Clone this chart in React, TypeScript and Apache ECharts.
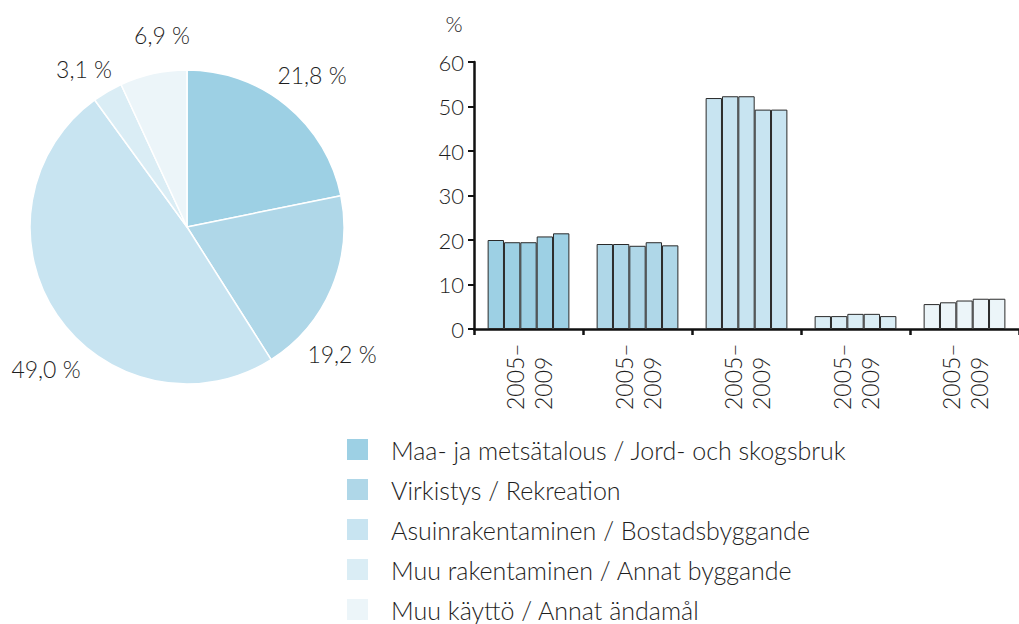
import React, { useEffect, useRef } from "react";
import * as echarts from "echarts";

const categories = [
  "Maa- ja metsätalous / Jord- och skogsbruk",
  "Virkistys / Rekreation",
  "Asuinrakentaminen / Bostadsbyggande",
  "Muu rakentaminen / Annat byggande",
  "Muu käyttö / Annat ändamål",
];
const colors = ["#9DD0E4", "#AFD7E8", "#C8E4F1", "#DAEDF5", "#ECF5F9"];
const years = ["2005", "2006", "2007", "2008", "2009"];
const pieShares = [21.8, 19.2, 49.0, 3.1, 6.9];
const maaValues = [20.0, 19.5, 19.5, 20.8, 21.5];
const virkistysValues = [19.1, 19.1, 18.7, 19.5, 18.8];
const asuinValues = [51.9, 52.3, 52.3, 49.3, 49.3];
const muuRakValues = [2.9, 2.9, 3.4, 3.4, 2.9];
const muuKayttoValues = [5.6, 6.0, 6.4, 6.8, 6.8];
const barValues = [maaValues, virkistysValues, asuinValues, muuRakValues, muuKayttoValues];
const yTicks = { min: 0, max: 60, interval: 10 };
const periodLabel = ["2005–", "2009"];
const pieLabelAnchors = [
  [312, 75],
  [342, 354],
  [46, 369],
  [84, 69],
  [162, 35],
];

const FONT = "Lato, 'Open Sans', sans-serif";
const TXT = "#1e1e1e";

export default function App() {
  const ref = useRef<HTMLDivElement>(null);
  useEffect(() => {
    if (!ref.current) return;
    const chart = echarts.init(ref.current, null, { renderer: "svg" });
    const barSeries = years.map((y, j) => ({
      type: "bar",
      name: y,
      xAxisIndex: 0,
      yAxisIndex: 0,
      barGap: "0%",
      barCategoryGap: "25%",
      data: categories.map((c, i) => ({
        value: barValues[i][j],
        itemStyle: { color: colors[i], borderColor: "#2a2a2a", borderWidth: 1 },
      })),
    }));
    chart.setOption({
      animation: false,
      textStyle: { fontFamily: FONT, color: TXT },
      legend: {
        data: categories,
        orient: "vertical",
        left: 345,
        top: 437,
        height: 220,
        padding: 0,
        icon: "rect",
        itemWidth: 23,
        itemHeight: 23,
        itemGap: 15,
        selectedMode: false,
        textStyle: {
          fontFamily: FONT,
          fontSize: 25,
          fontWeight: 300,
          color: TXT,
          padding: [0, 0, 0, 17],
        },
      },
      grid: { left: 474, top: 62, width: 552, bottom: 295, containLabel: false },
      xAxis: {
        type: "category",
        data: categories,
        axisLine: { lineStyle: { color: "#111", width: 2.5 } },
        axisTick: { show: true, length: 6, lineStyle: { color: "#111", width: 2.5 } },
        axisLabel: {
          rotate: 90,
          margin: 13,
          interval: 0,
          formatter: () => `{a|${periodLabel[0]}}\n{a|${periodLabel[1]}}`,
          rich: {
            a: {
              width: 68,
              align: "left",
              fontSize: 23,
              lineHeight: 28,
              fontFamily: FONT,
              fontWeight: 300,
              color: TXT,
            },
          },
        },
      },
      yAxis: {
        type: "value",
        min: yTicks.min,
        max: yTicks.max,
        interval: yTicks.interval,
        name: "%",
        nameLocation: "end",
        nameGap: 28,
        nameTextStyle: { fontSize: 22, fontWeight: 300, fontFamily: FONT, color: TXT, padding: [0, 40, 0, 0] },
        splitLine: { show: false },
        axisLine: { show: true, lineStyle: { color: "#111", width: 2.5 } },
        axisTick: { show: true, length: 6, lineStyle: { color: "#111", width: 2 } },
        axisLabel: { fontSize: 22, margin: 10, color: TXT, fontFamily: FONT, fontWeight: 300 },
      },
      series: [
        {
          type: "pie",
          center: [187, 227],
          radius: 157,
          startAngle: 90,
          clockwise: true,
          itemStyle: { borderColor: "#ffffff", borderWidth: 1.5 },
          label: {
            show: true,
            position: "outside",
            overflow: "none",
            fontSize: 23,
            fontFamily: FONT,
            fontWeight: 300,
            color: TXT,
            formatter: (p: any) => `${p.value.toFixed(1).replace(".", ",")} %`,
          },
          labelLine: { show: false },
          labelLayout: (p: any) => ({
            x: pieLabelAnchors[p.dataIndex][0],
            y: pieLabelAnchors[p.dataIndex][1],
            align: "center",
            verticalAlign: "middle",
          }),
          emphasis: { disabled: true },
          data: categories.map((c, i) => ({ name: c, value: pieShares[i], itemStyle: { color: colors[i] } })),
        },
        ...barSeries,
      ],
    });
    return () => chart.dispose();
  }, []);
  return (
    <div
      ref={ref}
      style={{ position: "fixed", left: 0, top: 0, width: 1019, height: 624, background: "#fff" }}
    />
  );
}
